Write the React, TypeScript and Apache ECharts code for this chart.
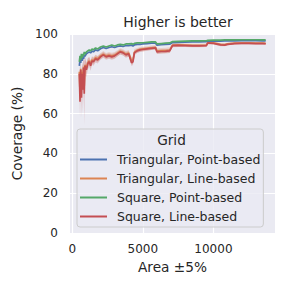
import React, { useEffect, useRef } from "react";
import * as echarts from "echarts";

const xs = [500, 550, 600, 650, 700, 750, 800, 850, 900, 1000, 1100, 1200, 1300, 1400, 1500, 1650, 1800, 2000, 2200, 2400, 2600, 2800, 3000, 3200, 3400, 3600, 3800, 4000, 4200, 4300, 4400, 4600, 4800, 5000, 5300, 5600, 5900, 6000, 6300, 6600, 6900, 7100, 7500, 8000, 8500, 9000, 9500, 9600, 10000, 10500, 10800, 11000, 11500, 12000, 12500, 13000, 13500, 13700];

const squarePoint = [86, 89, 87, 90, 88, 90, 89, 91, 90, 91, 91.5, 92, 91.5, 92.5, 92, 93, 92.5, 93.5, 94, 93.5, 94, 94.5, 94, 94.5, 94.8, 94.5, 95, 95, 95.2, 94.8, 95.3, 95.5, 95.5, 95.6, 95.8, 96, 96, 95, 95.2, 95.4, 95.5, 96.2, 96.3, 96.4, 96.5, 96.5, 96.6, 96.8, 96.9, 96.9, 97, 97, 97, 97.1, 97.1, 97.1, 97, 97];

const triPoint = [84, 87, 85.5, 88.5, 86.5, 88.5, 87.5, 89.5, 88.8, 90, 90.5, 91, 90.5, 91.5, 91, 92, 91.6, 92.6, 93.2, 92.7, 93.2, 93.6, 93.2, 93.7, 94, 93.7, 94.2, 94.2, 94.4, 94, 94.5, 94.8, 94.8, 95, 95.2, 95.4, 95.4, 94.4, 94.6, 94.8, 94.9, 95.7, 95.8, 95.9, 96, 96, 96.1, 96.3, 96.4, 96.4, 96.5, 96.5, 96.5, 96.6, 96.6, 96.6, 96.5, 96.5];

const triLine = [81, 70, 82.5, 72, 81, 75, 83.5, 74, 84.5, 82.8, 85.5, 86.5, 84.8, 87, 86.6, 88, 87.5, 89, 89.9, 89, 89.4, 89, 89.4, 90.3, 91.3, 90.8, 89.9, 90.4, 86.5, 86.8, 90.9, 91.8, 92.3, 92.5, 92.8, 93.1, 93.3, 91.5, 91.6, 91.7, 91.9, 94.4, 94.5, 94.4, 94.3, 94.3, 94.4, 95.6, 95.5, 94.8, 94.7, 95, 95.4, 95.5, 95.5, 95.4, 95.4, 95.3];
const triLineBand = [3, 5, 4, 6, 4, 6, 4, 6, 3, 2.5, 2, 2, 2, 1.8, 1.8, 1.6, 1.6, 1.5, 1.5, 1.5, 1.5, 1.6, 1.6, 1.5, 1.5, 1.5, 1.6, 1.6, 1.8, 1.8, 1.5, 1.2, 1.2, 1.2, 1.1, 1.1, 1.1, 1.4, 1.4, 1.4, 1.4, 0.9, 0.9, 0.8, 0.8, 0.8, 0.8, 0.7, 0.7, 0.7, 0.7, 0.6, 0.6, 0.6, 0.6, 0.6, 0.6, 0.6];

const squareLine = [80, 66, 82, 68, 80, 72, 83, 70, 84, 82, 85, 86, 84, 86.5, 86, 87.5, 87, 88.5, 89.5, 88.5, 89, 88.5, 89, 90, 91, 90.5, 89.5, 90, 85.5, 86, 90.5, 91.5, 92, 92.2, 92.5, 92.8, 93, 91, 91.2, 91.3, 91.5, 94.2, 94.3, 94.2, 94, 94, 94.2, 95.5, 95.3, 94.5, 94.4, 94.8, 95.2, 95.3, 95.3, 95.2, 95.2, 95.1];
const squareLineBand = [5, 8, 6, 10, 6, 12, 8, 16, 5, 3.5, 3, 2.5, 2.5, 2, 2, 1.8, 1.8, 1.5, 1.4, 1.4, 1.4, 1.4, 1.4, 1.3, 1.3, 1.3, 1.4, 1.4, 1.6, 1.6, 1.2, 1, 1, 1, 0.9, 0.9, 0.9, 1, 1, 1, 1, 0.8, 0.8, 0.7, 0.7, 0.7, 0.7, 0.6, 0.6, 0.6, 0.6, 0.5, 0.5, 0.5, 0.5, 0.5, 0.5, 0.5];

const seriesNames = ["Triangular, Point-based", "Triangular, Line-based", "Square, Point-based", "Square, Line-based"];
const colors = ["#4C72B0", "#DD8452", "#55A868", "#C44E52"];
const xTicks = [0, 5000, 10000];

const FONT = "DejaVu Sans";
const TXT = "#262626";

function bandSeries(vals: number[], band: number[], color: string) {
  return {
    type: "custom",
    silent: true,
    z: 1,
    data: [[xs[0], vals[0]]],
    renderItem: (params: any, api: any) => {
      const upper = xs.map((x, i) => api.coord([x, vals[i] + band[i]]));
      const lower = xs.map((x, i) => api.coord([x, vals[i] - band[i]])).reverse();
      return {
        type: "polygon",
        shape: { points: upper.concat(lower) },
        style: { fill: color, opacity: 0.25 },
      };
    },
  };
}

export default function App() {
  const ref = useRef<HTMLDivElement>(null);
  useEffect(() => {
    document.body.style.margin = "0";
    const chart = echarts.init(ref.current!, null, { renderer: "svg" });
    const lines = [triPoint, triLine, squarePoint, squareLine].map((vals, k) => ({
      type: "line",
      name: seriesNames[k],
      data: xs.map((x, i) => [x, vals[i]]),
      symbol: "none",
      lineStyle: { width: 1.7, color: colors[k] },
      itemStyle: { color: colors[k] },
      z: 3,
    }));
    chart.setOption({
      animation: false,
      title: {
        text: "Higher is better",
        left: 173,
        textAlign: "center",
        top: 10,
        textStyle: { fontFamily: FONT, fontSize: 14, fontWeight: "normal", color: TXT },
      },
      grid: {
        left: 70,
        right: 16,
        top: 34,
        bottom: 58,
        show: true,
        backgroundColor: "#EAEAF2",
        borderWidth: 0,
      },
      xAxis: {
        type: "value",
        min: -160,
        max: 14360,
        name: "Area ±5%",
        nameLocation: "middle",
        nameGap: 27,
        nameTextStyle: { fontFamily: FONT, fontSize: 13.7, color: TXT },
        axisLine: { show: false },
        axisTick: { show: false, customValues: xTicks },
        axisLabel: {
          customValues: xTicks,
          formatter: (v: number) => String(v),
          fontFamily: FONT,
          fontSize: 12,
          color: TXT,
          margin: 10,
        },
        splitLine: { show: true, lineStyle: { color: "#FFFFFF", width: 1.2 } },
      },
      yAxis: {
        type: "value",
        min: 0,
        max: 100,
        interval: 20,
        name: "Coverage (%)",
        nameLocation: "middle",
        nameGap: 41,
        nameTextStyle: { fontFamily: FONT, fontSize: 13.7, color: TXT },
        axisLine: { show: false },
        axisTick: { show: false },
        axisLabel: { fontFamily: FONT, fontSize: 12, color: TXT, margin: 12 },
        splitLine: { show: true, lineStyle: { color: "#FFFFFF", width: 1.2 } },
      },
      legend: {
        data: seriesNames,
        orient: "vertical",
        left: 77,
        top: 129,
        padding: [24, 3, 4, 3],
        itemGap: 6,
        itemWidth: 27,
        itemHeight: 2,
        icon: "rect",
        backgroundColor: "rgba(234,234,242,0.8)",
        borderColor: "#CCCCCC",
        borderWidth: 1,
        borderRadius: 3,
        textStyle: { fontFamily: FONT, fontSize: 12.5, color: TXT, padding: [0, 0, 0, 5] },
      },
      graphic: [
        {
          type: "text",
          x: 171.5,
          y: 140,
          z: 100,
          style: {
            text: "Grid",
            font: `13.7px '${FONT}'`,
            fill: TXT,
            textAlign: "center",
            textVerticalAlign: "middle",
          },
        },
      ],
      series: [
        bandSeries(triLine, triLineBand, colors[1]),
        bandSeries(squareLine, squareLineBand, colors[3]),
        ...lines,
      ],
    });
    return () => chart.dispose();
  }, []);
  return <div ref={ref} style={{ width: 291, height: 291 }} />;
}
